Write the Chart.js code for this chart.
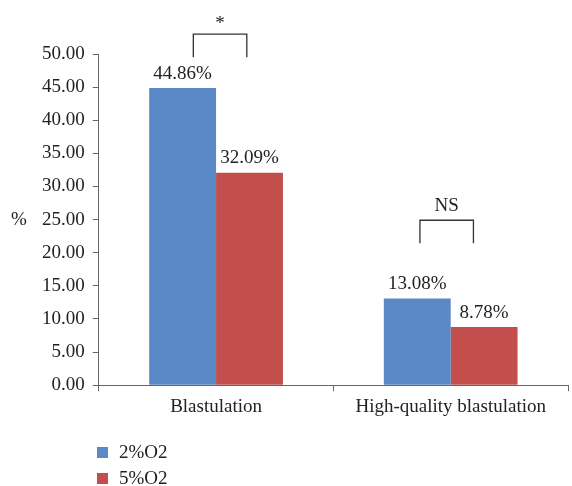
<!DOCTYPE html>
<html>
<head>
<meta charset="utf-8">
<script src="https://cdn.jsdelivr.net/npm/chart.js@4/dist/chart.umd.min.js"></script>
<style>
  html, body { margin: 0; padding: 0; background: #fff; }
  #wrap { position: relative; width: 572px; height: 486px; }
  #legend { position: absolute; left: 97px; top: 439px; font-family: "Liberation Serif", serif; font-size: 19px; color: #222; }
  #legend .item { display: flex; align-items: center; height: 26px; }
  #legend .sw { width: 11px; height: 11px; margin-right: 11px; }
</style>
</head>
<body>
<div id="wrap">
  <canvas id="c" width="572" height="486"></canvas>
  <div id="legend"></div>
</div>
<script>
const categories = ['Blastulation', 'High-quality blastulation'];
const seriesNames = ['2%O2', '5%O2'];
const series2 = [44.86, 13.08];
const series5 = [32.09, 8.78];
const yTicks = [0, 5, 10, 15, 20, 25, 30, 35, 40, 45, 50];
const sigLabels = ['*', 'NS'];
const sigLevels = [53.0, 24.9];

const colors = ['#5B88C6', '#C24F4C'];
const FONT = '"Liberation Serif", serif';
const FS = 19;

const dataLabels = {
  id: 'dataLabels',
  afterDatasetsDraw(chart) {
    const ctx = chart.ctx;
    ctx.save();
    ctx.font = FS + 'px ' + FONT;
    ctx.fillStyle = '#222';
    ctx.textAlign = 'center';
    ctx.textBaseline = 'bottom';
    chart.data.datasets.forEach((ds, di) => {
      chart.getDatasetMeta(di).data.forEach((bar, i) => {
        ctx.fillText(ds.data[i].toFixed(2) + '%', bar.x, bar.y - 5);
      });
    });
    // significance brackets
    const xs = chart.scales.x, ys = chart.scales.y;
    const catW = xs.width / categories.length;
    ctx.strokeStyle = '#333';
    ctx.lineWidth = 1.3;
    sigLabels.forEach((lab, i) => {
      const cx = xs.getPixelForValue(i) + (i === 0 ? 4 : -4);
      const half = catW * 0.114;
      const yTop = ys.getPixelForValue(sigLevels[i]);
      ctx.beginPath();
      ctx.moveTo(cx - half, yTop + 23);
      ctx.lineTo(cx - half, yTop);
      ctx.lineTo(cx + half, yTop);
      ctx.lineTo(cx + half, yTop + 23);
      ctx.stroke();
      ctx.textBaseline = 'bottom';
      ctx.fillText(lab, cx, yTop - 5 + (lab === '*' ? 4 : 0));
    });
    // axis title
    ctx.textAlign = 'center';
    ctx.textBaseline = 'middle';
    ctx.fillText('%', 19, (ys.top + ys.bottom) / 2);
    ctx.restore();
  }
};

const chart = new Chart(document.getElementById('c'), {
  type: 'bar',
  data: {
    labels: categories,
    datasets: [
      { label: seriesNames[0], data: series2, backgroundColor: colors[0] },
      { label: seriesNames[1], data: series5, backgroundColor: colors[1] }
    ]
  },
  options: {
    responsive: false,
    animation: false,
    layout: { padding: { left: 34, right: 4, top: 54, bottom: 64 } },
    plugins: { legend: { display: false }, tooltip: { enabled: false } },
    datasets: { bar: { categoryPercentage: 0.57, barPercentage: 1.0 } },
    scales: {
      x: {
        grid: { offset: true, drawOnChartArea: false, tickLength: 6, color: '#666' },
        border: { color: '#666', width: 1 },
        ticks: { font: { family: FONT, size: FS }, color: '#222', padding: 4 }
      },
      y: {
        min: 0, max: 50,
        afterBuildTicks(scale) { scale.ticks = yTicks.map(v => ({ value: v })); },
        grid: { drawOnChartArea: false, tickLength: 6, color: '#666' },
        border: { color: '#666', width: 1 },
        ticks: { font: { family: FONT, size: FS }, color: '#222', padding: 8, callback: v => Number(v).toFixed(2) }
      }
    }
  },
  plugins: [dataLabels]
});

const leg = document.getElementById('legend');
chart.data.datasets.forEach(ds => {
  const d = document.createElement('div');
  d.className = 'item';
  d.innerHTML = '<span class="sw" style="background:' + ds.backgroundColor + '"></span><span>' + ds.label + '</span>';
  leg.appendChild(d);
});
</script>
</body>
</html>
